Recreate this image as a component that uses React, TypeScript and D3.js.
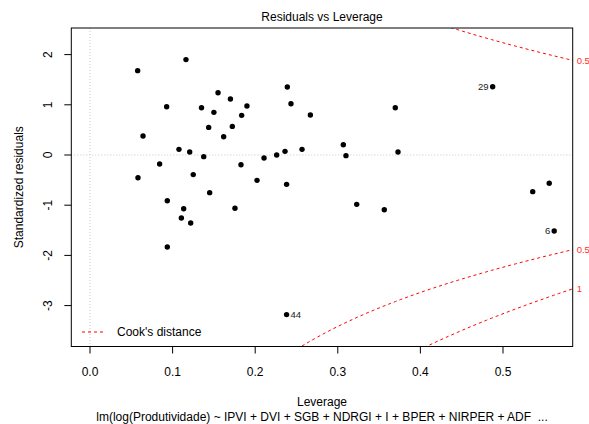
import * as d3 from "d3";

// leverage (hat values) and standardized residuals, one entry per observation
const leverage = [
  0.0577, 0.1162, 0.0928, 0.0642, 0.155, 0.17, 0.135, 0.15, 0.19, 0.1836,
  0.1437, 0.1723, 0.1618, 0.2389, 0.2433, 0.2668, 0.1077, 0.1207, 0.1377, 0.2567,
  0.2361, 0.226, 0.2107, 0.0843, 0.1828, 0.0581, 0.125, 0.2022, 0.238, 0.1449,
  0.0936, 0.1134, 0.1755, 0.1106, 0.1219, 0.0936, 0.238, 0.4875, 0.3696, 0.3067,
  0.3099, 0.3729, 0.3229, 0.3563, 0.536, 0.556, 0.562,
];
const stdResiduals = [
  1.68, 1.9, 0.962, 0.378, 1.24, 1.115, 0.942, 0.85, 0.976, 0.79,
  0.55, 0.57, 0.365, 1.355, 1.02, 0.797, 0.113, 0.06, -0.033, 0.113,
  0.073, 0.0, -0.06, -0.18, -0.193, -0.452, -0.39, -0.505, -0.585, -0.75,
  -0.91, -1.07, -1.062, -1.255, -1.355, -1.833, -3.18, 1.36, 0.942, 0.205,
  -0.013, 0.06, -0.983, -1.09, -0.73, -0.564, -1.514,
];
// index into the arrays above -> observation id shown
const labelIndex = [36, 37, 46];
const labelText = ["44", "29", "6"];

const xTicks = [0, 0.1, 0.2, 0.3, 0.4, 0.5];
const yTicks = [2, 1, 0, -1, -2, -3];
const cookLevels = [0.5, 1];
const nParams = 10;

const title = "Residuals vs Leverage";
const xLabel = "Leverage";
const yLabel = "Standardized residuals";
const caption = "lm(log(Produtividade) ~ IPVI + DVI + SGB + NDRGI + I + BPER + NIRPER + ADF  ...";

export default function App() {
  const W = 589;
  const H = 424;
  const left = 71.3;
  const right = 572.7;
  const top = 28;
  const bottom = 346.5;
  const font = "'Liberation Sans', Arial, Helvetica, sans-serif";

  const x = d3.scaleLinear().domain([-0.02264, 0.5844]).range([left, right]);
  const y = d3.scaleLinear().domain([2.53, -3.815]).range([top, bottom]);

  const xMax = x.domain()[1];
  const hh = d3.range(101).map(i => 0.005 + (i * (xMax - 0.005)) / 100);
  const line = d3
    .line<number[]>()
    .x(d => x(d[0]))
    .y(d => y(d[1]));

  const curves: { level: number; sign: number; path: string }[] = [];
  cookLevels.forEach(level => {
    [1, -1].forEach(sign => {
      const pts = hh.map(h => [h, sign * Math.sqrt((level * nParams * (1 - h)) / h)]);
      curves.push({ level, sign, path: line(pts) || "" });
    });
  });

  const [yMin, yMax] = [y.domain()[1], y.domain()[0]];
  const edgeLabels = curves
    .map(c => ({ level: c.level, v: c.sign * Math.sqrt((c.level * nParams * (1 - xMax)) / xMax) }))
    .filter(d => d.v < yMax && d.v > yMin);

  const midX = (x.domain()[0] + xMax) / 2;

  return (
    <svg
      width={W}
      height={H}
      style={{ position: "absolute", left: 0, top: 0, background: "#fff" }}
      fontFamily={font}
    >
      <defs>
        <clipPath id="plotClip">
          <rect x={left} y={top} width={right - left} height={bottom - top} />
        </clipPath>
      </defs>
      <rect width={W} height={H} fill="#fff" />

      {/* reference lines at 0 */}
      <line x1={left} x2={right} y1={y(0)} y2={y(0)} stroke="#c8c8c8" strokeDasharray="1,2" />
      <line x1={x(0)} x2={x(0)} y1={top} y2={bottom} stroke="#c8c8c8" strokeDasharray="1,2" />

      {/* Cook's distance contours */}
      <g clipPath="url(#plotClip)">
        {curves.map((c, i) => (
          <path key={i} d={c.path} fill="none" stroke="#ff0000" strokeWidth={1} strokeDasharray="3,3" />
        ))}
      </g>
      {edgeLabels.map((d, i) => (
        <text key={i} x={right + 4} y={y(d.v)} dy="0.35em" fontSize={9.5} fill="#ff3030">
          {d.level}
        </text>
      ))}

      {/* points */}
      {leverage.map((h, i) => (
        <circle key={i} cx={x(h)} cy={y(stdResiduals[i])} r={2.7} fill="#000" />
      ))}
      {labelIndex.map((idx, i) => {
        const onLeft = leverage[idx] > midX;
        return (
          <text
            key={i}
            x={x(leverage[idx]) + (onLeft ? -4 : 4)}
            y={y(stdResiduals[idx])}
            dy="0.35em"
            fontSize={9.5}
            fill="#222"
            textAnchor={onLeft ? "end" : "start"}
          >
            {labelText[i]}
          </text>
        );
      })}

      {/* legend */}
      <line x1={82} x2={105} y1={332} y2={332} stroke="#ff0000" strokeDasharray="3,3" />
      <text x={117} y={332} dy="0.35em" fontSize={12} fill="#000">
        Cook's distance
      </text>

      {/* box */}
      <rect x={left} y={top} width={right - left} height={bottom - top} fill="none" stroke="#000" />

      {/* x axis */}
      {xTicks.map(t => (
        <g key={t}>
          <line x1={x(t)} x2={x(t)} y1={bottom} y2={bottom + 7} stroke="#000" />
          <text x={x(t)} y={375.5} textAnchor="middle" fontSize={12}>
            {d3.format(".1f")(t)}
          </text>
        </g>
      ))}
      {/* y axis */}
      {yTicks.map(t => (
        <g key={t}>
          <line x1={left - 7} x2={left} y1={y(t)} y2={y(t)} stroke="#000" />
          <text transform={`translate(52.3,${y(t)}) rotate(-90)`} textAnchor="middle" fontSize={12}>
            {t}
          </text>
        </g>
      ))}

      <text x={(left + right) / 2} y={21} textAnchor="middle" fontSize={12}>
        {title}
      </text>
      <text x={(left + right) / 2} y={405.5} textAnchor="middle" fontSize={12}>
        {xLabel}
      </text>
      <text x={(left + right) / 2} y={421} textAnchor="middle" fontSize={12} style={{ whiteSpace: "pre" }}>
        {caption}
      </text>
      <text transform={`translate(22.5,${(top + bottom) / 2}) rotate(-90)`} textAnchor="middle" fontSize={12}>
        {yLabel}
      </text>
    </svg>
  );
}
